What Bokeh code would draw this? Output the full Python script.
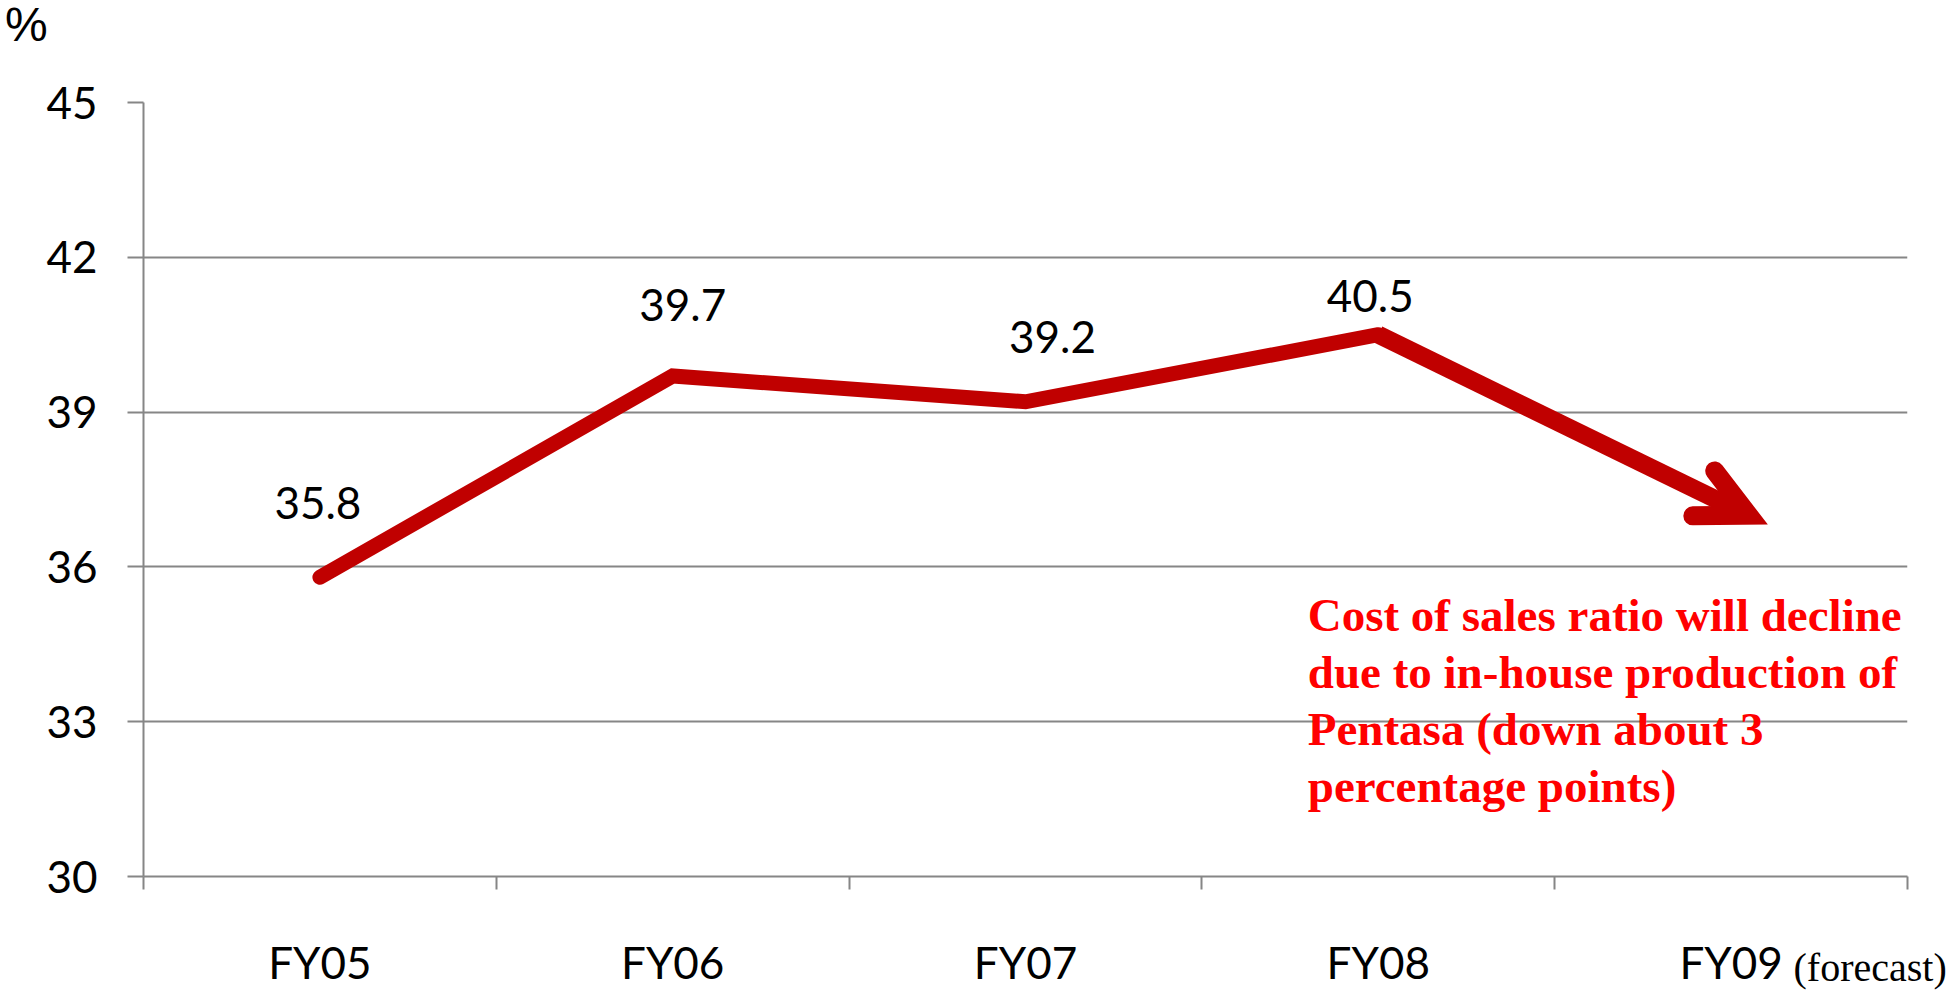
from bokeh.plotting import figure
from bokeh.layouts import column
from bokeh.models import (FactorRange, Range1d, LinearAxis, FixedTicker, Grid,
                          Label, Arrow, OpenHead, ColumnDataSource, Div)
from bokeh.core.properties import value
from bokeh.embed import file_html
from bokeh.resources import INLINE

# ---------------- data ----------------
categories = ["FY05", "FY06", "FY07", "FY08", "FY09"]
actual_years = ["FY05", "FY06", "FY07", "FY08"]
cost_ratio = [35.8, 39.7, 39.2, 40.5]
forecast_year = "FY09"
forecast_ratio = 37.0
y_ticks = [30, 33, 36, 39, 42, 45]
unit_label = "%"
forecast_tag = "(forecast)"
note_lines = [
    "Cost of sales ratio will decline",
    "due to in-house production of",
    "Pentasa (down about 3",
    "percentage points)",
]

# ---------------- style ----------------
RED = "#C00000"
NOTE_RED = "#FF0000"
GRAY = "#868686"
SANS = "Lato"
SERIF = "Liberation Serif"
label_dx = [-2, 10, 27, -8]
label_dy = [-74, -71, -65, -39]
arrow_nudge = 0.05          # arrow tip sits slightly right of the FY09 centre
note_x = 3.30
note_y = [35.06, 33.97, 32.85, 31.75]
tag_x = 4.894               # centre of the "(forecast)" tag on the x scale
HEAD_H = 50                 # height of the strip holding the "%" unit

unit_div = Div(text=unit_label, width=1952, height=HEAD_H, margin=(0, 0, 0, 0),
               styles={"font-family": "'Liberation Sans', sans-serif",
                       "font-size": "48px", "line-height": "48px",
                       "color": "black", "padding": "1px 0 0 5px",
                       "margin": "0"})

p = figure(width=1952, height=992 - HEAD_H,
           x_range=FactorRange(factors=categories),
           y_range=Range1d(y_ticks[0], y_ticks[-1]),
           x_axis_type=None, y_axis_type=None,
           output_backend="svg", toolbar_location=None,
           min_border_left=143, min_border_right=45,
           min_border_top=102 - HEAD_H, min_border_bottom=116)
p.outline_line_color = None
p.background_fill_color = "white"
p.border_fill_color = "white"

# y axis
yaxis = LinearAxis(ticker=FixedTicker(ticks=y_ticks))
yaxis.axis_line_color = GRAY
yaxis.axis_line_width = 2
yaxis.major_tick_line_color = GRAY
yaxis.major_tick_line_width = 2
yaxis.major_tick_out = 16
yaxis.major_tick_in = 0
yaxis.minor_tick_line_color = None
yaxis.major_label_standoff = 30
yaxis.major_label_text_font = SANS
yaxis.major_label_text_font_size = "44px"
yaxis.major_label_text_color = "black"
p.add_layout(yaxis, "left")
p.add_layout(Grid(dimension=1, ticker=yaxis.ticker, grid_line_color=GRAY,
                  grid_line_width=2))

# x axis: labels at category centres, tick marks on category boundaries
centres = [i + 0.5 for i in range(len(categories))]
bounds = [float(i) for i in range(len(categories) + 1)]
xaxis = LinearAxis(ticker=FixedTicker(ticks=centres, minor_ticks=bounds))
xaxis.major_label_overrides = {c: cat for c, cat in zip(centres, categories)}
xaxis.axis_line_color = GRAY
xaxis.axis_line_width = 2
xaxis.major_tick_line_color = None
xaxis.major_tick_out = 0
xaxis.major_tick_in = 0
xaxis.minor_tick_line_color = GRAY
xaxis.minor_tick_line_width = 2
xaxis.minor_tick_out = 13
xaxis.minor_tick_in = 0
xaxis.major_label_standoff = 46
xaxis.major_label_text_font = SANS
xaxis.major_label_text_font_size = "44px"
xaxis.major_label_text_color = "black"
p.add_layout(xaxis, "below")

# "(forecast)" tag: a label-only axis pulled back up beside FY09
tag_axis = LinearAxis(ticker=FixedTicker(ticks=[tag_x]))
tag_axis.major_label_overrides = {tag_x: forecast_tag}
tag_axis.axis_line_color = None
tag_axis.major_tick_line_color = None
tag_axis.minor_tick_line_color = None
tag_axis.major_tick_out = 0
tag_axis.major_tick_in = 0
tag_axis.minor_tick_out = 0
tag_axis.minor_tick_in = 0
tag_axis.major_label_standoff = -46
tag_axis.major_label_text_font = SERIF
tag_axis.major_label_text_font_size = "40px"
tag_axis.major_label_text_color = "black"
p.add_layout(tag_axis, "below")

# main line
p.line(x=actual_years, y=cost_ratio, line_color=RED, line_width=15,
       line_cap="round", line_join="miter")

# forecast arrow
x_tip = categories.index(forecast_year) + 0.5 + arrow_nudge
arrow_src = ColumnDataSource(dict(x0=[actual_years[-1]], y0=[cost_ratio[-1]],
                                  x1=[x_tip], y1=[forecast_ratio]))
p.add_layout(Arrow(end=OpenHead(size=50, line_color=RED, line_width=19,
                                line_cap="round", line_join="miter"),
                   x_start="x0", y_start="y0", x_end="x1", y_end="y1",
                   source=arrow_src, line_color=RED, line_width=18))

# data labels
p.text(x=actual_years, y=cost_ratio, text=[f"{v:.1f}" for v in cost_ratio],
       x_offset=label_dx, y_offset=label_dy,
       text_align="center", text_baseline="middle",
       text_font=value(SANS), text_font_size="44px", text_color="black")

# note text
for line, yy in zip(note_lines, note_y):
    p.add_layout(Label(x=note_x, y=yy, text=line, text_font=SERIF,
                       text_font_style="bold", text_font_size="47px",
                       text_color=NOTE_RED, text_baseline="alphabetic",
                       text_align="left"))

layout = column(unit_div, p, spacing=0)
open("out.html", "w").write(file_html(layout, INLINE))
